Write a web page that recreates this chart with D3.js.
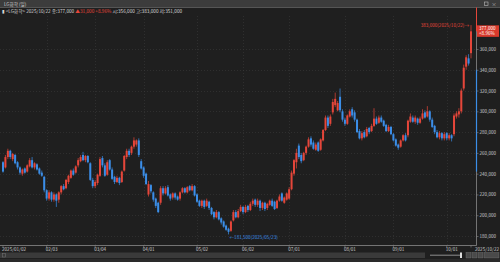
<!DOCTYPE html>
<html>
<head>
<meta charset="utf-8">
<script src="https://cdn.jsdelivr.net/npm/d3@7/dist/d3.min.js"></script>
<style>
html, body { margin: 0; padding: 0; background: #1f1f1f; overflow: hidden; }
svg { display: block; font-family: "Noto Sans CJK KR", "DejaVu Sans", sans-serif; }
</style>
</head>
<body>
<svg id="chart" width="500" height="262"></svg>
<script>
// daily candles, prices in thousand won (LG Chem, 2025/01/02 .. 2025/10/22)
const opens = [251,246,256,262,254,258,251,246,240,245,242,247,253,246,249,245,241,237,
  224,216,222,215,220,215,222,228,226,232,236,243,241,248,252,258,253,257,250,234,
  228,231,238,255,248,239,253,244,237,232,236,232,243,256,262,260,266,268,272,252,
  246,240,220,229,222,216,212,212,226,221,227,220,217,221,218,216,222,226,222,228,224,228,
  220,214,209,214,209,213,207,203,198,203,197,194,190,187,185,195,203,198,204,
  208,203,209,205,211,215,210,214,207,212,207,210,214,213,207,214,221,212,215,
  216,225,240,251,267,258,253,260,266,274,270,263,270,263,272,282,294,288,299,306,301,314,300,
  292,288,295,302,299,292,281,274,280,276,284,281,286,293,289,294,291,287,281,285,
  278,273,268,266,272,277,277,290,294,290,293,289,293,299,295,300,292,286,280,275,279,274,
  279,274,277,278,295,297,300,322,343,351,356];
const highs = [252,258,264,263,260,259,252,247,245,246,249,255,256,251,250,246,243,238,
  225,224,223,222,221,223,229,230,235,239,244,245,248,255,258,261,258,258,251,236,
  234,240,256,257,250,253,254,246,238,238,237,243,258,264,264,267,275,273,274,254,
  247,241,233,230,223,217,213,228,228,228,229,221,222,222,219,223,227,227,228,229,230,229,
  221,215,215,215,216,214,208,204,205,204,198,195,191,188,195,205,205,206,210,
  209,210,210,213,216,216,216,215,213,213,212,215,216,214,215,220,222,218,222,
  227,243,254,264,269,260,261,267,275,276,272,270,271,274,283,296,296,297,312,318,310,322,302,
  294,297,302,304,301,293,283,281,282,285,285,288,303,295,296,296,292,288,287,286,
  279,274,269,273,278,279,292,298,296,296,294,295,302,301,305,301,294,287,282,281,280,280,
  280,279,278,298,300,303,322,345,354,355,383];
const lows = [241,245,254,254,252,249,244,239,238,240,241,246,245,244,243,239,237,222,
  214,214,213,213,208,212,220,224,225,230,235,238,240,246,251,252,251,250,233,226,
  226,229,237,246,237,238,243,234,230,231,229,231,242,254,256,258,264,266,256,244,
  236,229,218,221,213,207,202,210,219,220,218,214,215,215,214,214,221,221,221,223,223,218,
  212,208,207,206,208,205,200,196,197,195,191,188,185,181.5,184,194,197,197,203,
  201,202,203,204,209,208,208,204,205,204,205,209,208,205,206,213,213,211,214,
  215,224,238,245,254,250,252,258,265,266,263,262,261,262,271,281,284,286,297,304,300,299,290,
  286,287,294,294,290,279,273,272,274,275,278,280,285,287,288,289,285,280,280,277,
  271,266,263,265,271,271,275,289,289,288,287,288,292,293,294,290,284,278,274,273,272,272,
  272,272,271,276,293,294,298,320,340,344,351];
const closes = [242,256,262,256,259,250,246,241,244,241,248,253,246,250,244,240,238,224,
  216,222,215,220,214,222,228,225,234,238,243,239,247,253,256,253,257,251,234,228,
  232,239,254,248,238,251,244,235,232,236,231,242,257,262,258,266,272,272,258,245,
  238,230,230,223,215,209,203,226,221,226,219,216,221,217,215,222,226,222,227,224,228,219,
  213,209,214,208,214,207,201,198,203,196,193,189,186,184,194,203,198,204,208,
  203,208,205,211,214,210,214,207,212,206,211,214,209,206,214,218,214,217,221,
  225,241,253,260,256,252,260,266,273,268,264,268,262,273,282,294,286,295,309,312,308,301,292,
  288,296,300,296,292,280,274,279,275,283,280,286,293,288,294,290,286,281,285,278,
  272,267,265,272,277,272,291,295,290,294,289,293,298,294,300,292,285,280,275,279,274,
  278,274,277,274,296,298,300,320,342,352,346,377];

const tickIndex = [0, 18, 38, 58, 80, 99, 118, 141, 161, 183, 193];
const tickLabels = ["2025/01/02", "02/03", "03/04", "04/01", "05/02", "06/02", "07/01", "08/01", "09/01", "10/01", "2025/10/22"];
const priceTicks = [180, 200, 220, 240, 260, 280, 300, 320, 340, 360];

const RED = "#e5463a", BLUE = "#3b8ee8";
const svg = d3.select("#chart");
const fmt = d3.format(",");

let x = d3.scaleLinear().domain([0, closes.length - 1]).range([3, 471]);
let y = d3.scaleLinear().domain([180, 360]).range([236, 49]);
let axisX = 476.5, axisY = 245.5;

// panels
svg.append("rect").attr("width", 500).attr("height", 262).attr("fill", "#1f1f1f");
svg.append("rect").attr("width", 500).attr("height", 7.5).attr("fill", "#3c3c3c");
svg.append("line").attr("x1", 0).attr("x2", 500).attr("y1", 7.5).attr("y2", 7.5).attr("stroke", "#555");
svg.append("text").attr("x", 4).attr("y", 5.6).attr("font-size", 4.6).attr("fill", "#cfcfcf").text("LG화학 (일)");
svg.append("rect").attr("x", 484.5).attr("y", 2).attr("width", 3.5).attr("height", 3.5).attr("fill", "none").attr("stroke", "#bbb").attr("stroke-width", 0.6);
svg.append("text").attr("x", 491.5).attr("y", 5.8).attr("font-size", 5).attr("fill", "#bbb").text("×");

// grid
svg.append("g").selectAll("line").data(priceTicks).enter().append("line")
  .attr("x1", 0).attr("x2", axisX).attr("y1", d => Math.round(y(d)) + 0.5).attr("y2", d => Math.round(y(d)) + 0.5)
  .attr("stroke", "#3a3a3a").attr("stroke-width", 0.6).attr("stroke-dasharray", "1,2");
svg.append("g").selectAll("line").data(tickIndex.slice(1, -1)).enter().append("line")
  .attr("x1", d => Math.round(x(d)) + 0.5).attr("x2", d => Math.round(x(d)) + 0.5).attr("y1", 16).attr("y2", axisY)
  .attr("stroke", "#3a3a3a").attr("stroke-width", 0.6).attr("stroke-dasharray", "1,2");

// candles
let data = closes.map((c, i) => ({ i: i, o: opens[i], h: highs[i], l: lows[i], c: c }));
let col = d => d.c >= d.o ? RED : BLUE;
let cg = svg.append("g");
cg.selectAll("line").data(data).enter().append("line")
  .attr("x1", d => x(d.i)).attr("x2", d => x(d.i))
  .attr("y1", d => y(d.h)).attr("y2", d => y(d.l))
  .attr("stroke", col).attr("stroke-width", 0.7);
cg.selectAll("rect").data(data).enter().append("rect")
  .attr("x", d => x(d.i) - 1).attr("width", 2)
  .attr("y", d => y(Math.max(d.o, d.c)))
  .attr("height", d => Math.max(0.7, Math.abs(y(d.o) - y(d.c))))
  .attr("fill", col);

// right axis
svg.append("line").attr("x1", axisX).attr("x2", axisX).attr("y1", 16).attr("y2", axisY).attr("stroke", "#8a8a8a").attr("stroke-width", 0.8);
svg.append("line").attr("x1", axisX).attr("x2", axisX).attr("y1", 7.5).attr("y2", y(377)).attr("stroke", RED).attr("stroke-width", 1);
svg.append("line").attr("x1", axisX).attr("x2", axisX).attr("y1", y(340)).attr("y2", y(242)).attr("stroke", BLUE).attr("stroke-width", 1.2);
let ya = svg.append("g").attr("transform", `translate(${axisX},0)`)
  .call(d3.axisRight(y).tickValues(priceTicks).tickSize(2).tickFormat(d => fmt(d * 1000) ));
ya.select(".domain").remove();
ya.selectAll("line").attr("stroke", "#8a8a8a").attr("stroke-width", 0.6);
ya.selectAll("text").attr("fill", "#c8c8c8").attr("font-size", 4.6).attr("x", 3).attr("font-family", "Noto Sans CJK KR, DejaVu Sans, sans-serif");

// bottom axis
svg.append("line").attr("x1", 0).attr("x2", axisX).attr("y1", axisY).attr("y2", axisY).attr("stroke", "#8a8a8a").attr("stroke-width", 0.8);
let xg = svg.append("g");
xg.selectAll("line").data(tickIndex).enter().append("line")
  .attr("x1", d => x(d)).attr("x2", d => x(d)).attr("y1", axisY).attr("y2", axisY + 2)
  .attr("stroke", "#8a8a8a").attr("stroke-width", 0.6);
xg.selectAll("text").data(tickIndex).enter().append("text")
  .attr("x", (d, i) => i === tickIndex.length - 1 ? 499 : x(d) - 1)
  .attr("text-anchor", (d, i) => i === tickIndex.length - 1 ? "end" : "start")
  .attr("y", axisY + 5.5).attr("font-size", 4.6).attr("fill", "#c8c8c8")
  .text((d, i) => tickLabels[i]);

// info line
let info = svg.append("text").attr("x", 2).attr("y", 13).attr("font-size", 4.7).attr("fill", "#d8d8d8");
info.append("tspan").text("▮ <LG화학> 2025/10/22 종:377,000 ");
info.append("tspan").attr("fill", RED).text("▲31,000  +8.96%");
info.append("tspan").text("  시:356,000  고:383,000  저:351,000");

// current price tag
svg.append("rect").attr("x", 477).attr("y", y(377) - 6).attr("width", 22).attr("height", 11.5).attr("fill", "#d93a2c");
svg.append("text").attr("x", 479).attr("y", y(377) - 1.3).attr("font-size", 4.6).attr("fill", "#fff").text("377,000");
svg.append("text").attr("x", 479).attr("y", y(377) + 3.8).attr("font-size", 4.6).attr("fill", "#fff").text("+8.96%");

// high / low marks
svg.append("text").attr("x", x(193) - 2).attr("y", y(383) + 1.8).attr("text-anchor", "end")
  .attr("font-size", 4.6).attr("fill", RED).text("383,000(2025/10/22)→");
svg.append("text").attr("x", x(93) + 1).attr("y", y(181.5) + 4.5)
  .attr("font-size", 4.6).attr("fill", BLUE).text("←181,500(2025/05/23)");

// scroll bar
svg.append("rect").attr("x", 0).attr("y", 252.5).attr("width", 425).attr("height", 5.5).attr("fill", "#3a3a3a");
svg.append("rect").attr("x", 2.5).attr("y", 253.5).attr("width", 3).attr("height", 3.5).attr("fill", "none").attr("stroke", "#777").attr("stroke-width", 0.5);
svg.append("line").attr("x1", 430).attr("x2", 461).attr("y1", 255.2).attr("y2", 255.2).attr("stroke", "#aaa").attr("stroke-width", 0.8);
svg.append("rect").attr("x", 460).attr("y", 252.5).attr("width", 2).attr("height", 5.5).attr("fill", "#ddd");
[466, 472, 478].forEach(bx => {
  svg.append("rect").attr("x", bx).attr("y", 252.5).attr("width", 5).attr("height", 5.5).attr("fill", "#4a4a4a").attr("stroke", "#777").attr("stroke-width", 0.4);
});
svg.append("rect").attr("x", 484).attr("y", 252.5).attr("width", 15).attr("height", 5.5).attr("fill", "#4a4a4a").attr("stroke", "#777").attr("stroke-width", 0.4);
svg.append("rect").attr("x", 0).attr("y", 259).attr("width", 500).attr("height", 3).attr("fill", "#2a2a2a");
</script>
</body>
</html>
